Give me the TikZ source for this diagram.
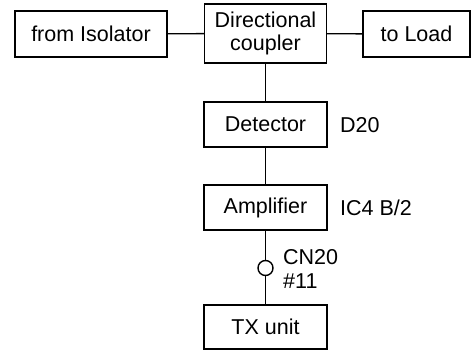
\documentclass[tikz,border=0pt]{standalone}
\usepackage{fontspec}
\setmainfont{Liberation Sans}
\begin{document}
\begin{tikzpicture}[x=1pt,y=-1pt,
  blk/.style={draw, line width=1.4pt, inner sep=0pt, align=center, font=\fontsize{21.5}{23.5}\selectfont},
  lbl/.style={anchor=west, inner sep=0pt, font=\fontsize{21.5}{23.5}\selectfont},
  wire/.style={line width=1.4pt}]
\useasboundingbox (0,0) rectangle (472,351);
\node[blk, minimum width=152pt, minimum height=46pt] (iso) at (91,34) {from Isolator};
\node[blk, minimum width=122pt, minimum height=59pt] (dc) at (265.5,33.5) {Directional\\coupler};
\node[blk, minimum width=107pt, minimum height=46pt] (load) at (416.5,34) {to Load};
\node[blk, minimum width=123pt, minimum height=45pt] (det) at (265.5,124.5) {Detector};
\node[blk, minimum width=123pt, minimum height=45pt] (amp) at (265.5,207.5) {Amplifier};
\node[blk, minimum width=123pt, minimum height=44pt] (tx) at (265.5,327) {TX unit};
\node[draw, circle, line width=1.4pt, minimum size=15pt, inner sep=0pt] (cn) at (265.5,268) {};
\node[lbl] (d20) at (340,125) {D20};
\node[lbl] (ic4) at (340,208) {IC4 B/2};
\node[lbl] (cn20) at (283,257) {CN20};
\node[lbl] (n11) at (283,281) {\#11};
\draw[wire] (iso) -- (dc);
\draw[wire] (dc) -- (load);
\draw[wire] (dc) -- (det);
\draw[wire] (det) -- (amp);
\draw[wire] (amp) -- (cn);
\draw[wire] (cn) -- (tx);
\end{tikzpicture}
\end{document}
